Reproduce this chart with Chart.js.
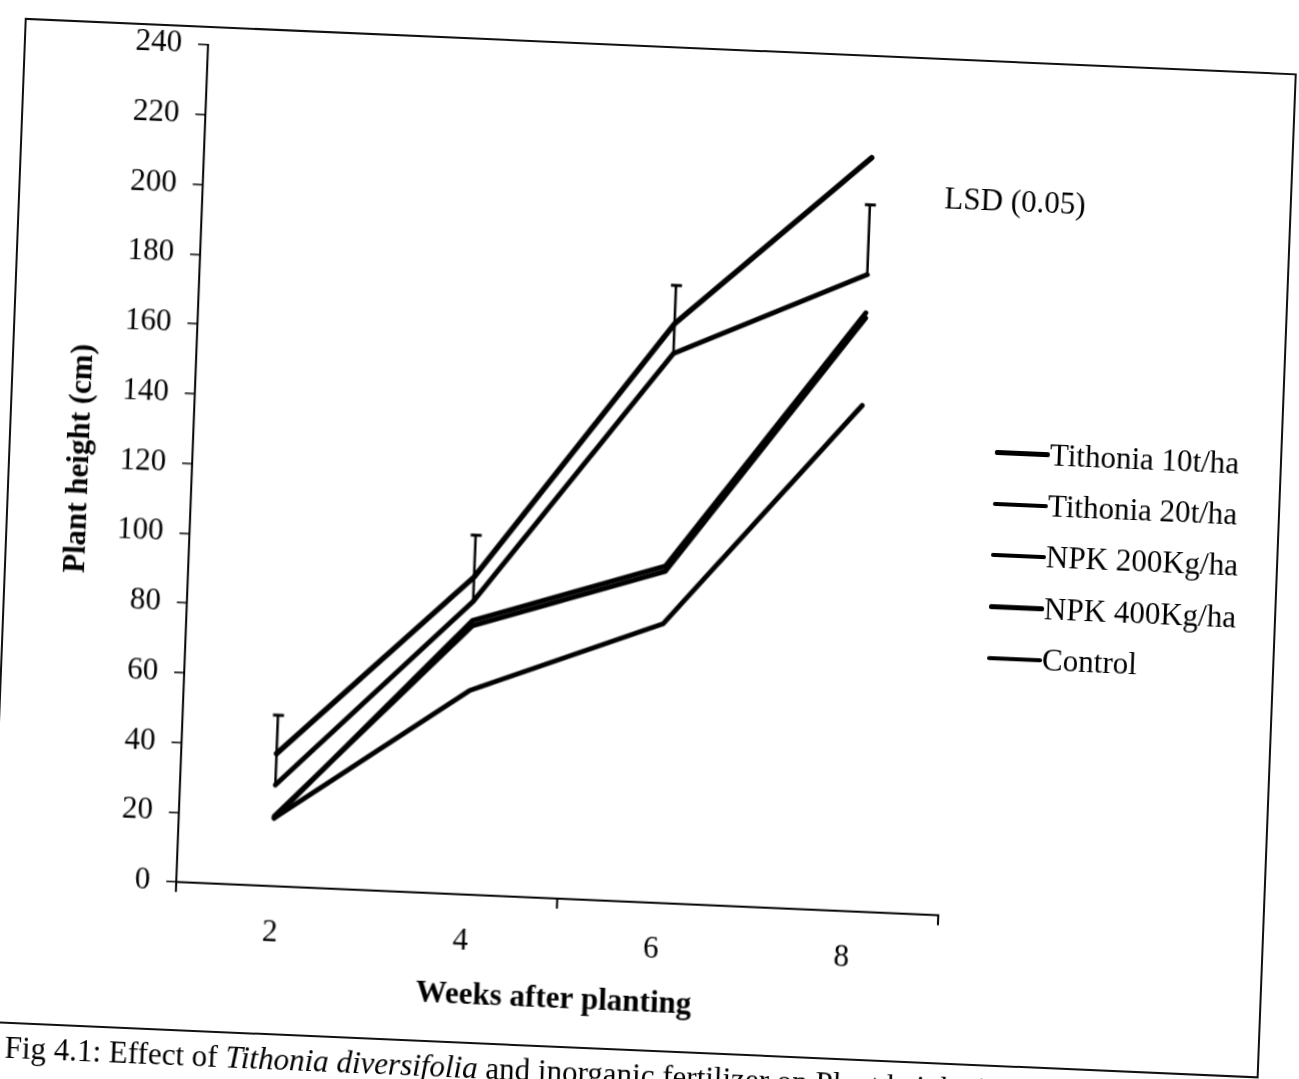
<!DOCTYPE html>
<html>
<head>
<meta charset="utf-8">
<script src="https://cdn.jsdelivr.net/npm/chart.js@4.4.1/dist/chart.umd.min.js"></script>
<style>
    html, body { margin: 0; padding: 0; background: #fff; overflow: hidden; }
    body { width: 1299px; height: 1079px; position: relative; }
    #sheet {
        position: absolute; left: 0; top: 0;
        width: 1299px; height: 1079px;
        transform-origin: 650px 540px;
        transform: matrix(1, 0.0437, -0.038, 1, 0, 0);
        font-family: "Liberation Serif", "Times New Roman", serif;
        color: #000;
    }
    #frame {
        position: absolute; left: 6px; top: 46px;
        width: 1268px; height: 1001px;
        border: 2px solid #111;
    }
    #plot { position: absolute; left: 0; top: 0; }
    #lsdLabel { position: absolute; left: 931px; top: 169px; font-size: 31px; line-height: 34px; white-space: nowrap; }
    #legend { position: absolute; left: 991px; top: 412px; }
    .legend-row { height: 51.3px; display: flex; align-items: center; font-size: 31px; line-height: 34px; white-space: nowrap; }
    .legend-line { width: 55px; height: 4.5px; background: #000; border-radius: 2px; }
    #caption { position: absolute; left: 25px; top: 1057px; font-size: 31px; line-height: 36px; white-space: nowrap; }
</style>
</head>
<body>
<div id="sheet">
    <div id="frame"></div>
    <canvas id="plot" width="1299" height="1079"></canvas>
    <div id="lsdLabel">LSD (0.05)</div>
    <div id="legend"></div>
    <div id="caption"></div>
</div>
<script>
// Data (plant height in cm)
const weeks = ['2', '4', '6', '8'];
const seriesNames = ['Tithonia 10t/ha', 'Tithonia 20t/ha', 'NPK 200Kg/ha', 'NPK 400Kg/ha', 'Control'];
const tithonia10 = [29, 84, 157.5, 182.5];
const tithonia20 = [38, 91, 166, 216];
const npk200 = [20, 77, 95, 170];
const npk400 = [19.5, 78.5, 96.5, 171.5];
const control = [19.5, 58.5, 80, 145];
const lsd = [20, 19, 19.5, 20];

// Y axis range
const yMin = 0;
const yMax = 240;
const yStep = 20;

const serif = '"Liberation Serif", "Times New Roman", serif';

// Caption: keep the species name italic
document.getElementById('caption').innerHTML =
    'Fig 4.1: Effect of <i>Tithonia diversifolia</i> and inorganic fertilizer on Plant height (cm) of';

// Build legend
const legend = document.getElementById('legend');
seriesNames.forEach(name => {
    const row = document.createElement('div');
    row.className = 'legend-row';
    row.innerHTML = `<span class="legend-line"></span><span>${name}</span>`;
    legend.appendChild(row);
});

// LSD bars drawn on top of the Tithonia 10t/ha line
const lsdBars = {
    id: 'lsdBars',
    afterDatasetsDraw(chart) {
        const { ctx, scales: { x, y } } = chart;
        ctx.save();
        ctx.strokeStyle = '#000';
        ctx.lineCap = 'butt';
        tithonia10.forEach((v, i) => {
            const px = x.getPixelForValue(i);
            const yBottom = y.getPixelForValue(v);
            const yTop = y.getPixelForValue(v + lsd[i]);
            ctx.lineWidth = 2.5;
            ctx.beginPath();
            ctx.moveTo(px, yBottom);
            ctx.lineTo(px, yTop);
            ctx.stroke();
            ctx.lineWidth = 3;
            ctx.beginPath();
            ctx.moveTo(px - 5, yTop);
            ctx.lineTo(px + 6, yTop);
            ctx.stroke();
        });
        ctx.restore();
    }
};

function lineSet(label, data, width) {
    return {
        label,
        data,
        borderColor: '#000',
        backgroundColor: '#000',
        borderWidth: width,
        pointRadius: 0,
        borderCapStyle: 'round',
        borderJoinStyle: 'round',
        tension: 0,
        fill: false
    };
}

// x tick marks only every second category boundary (plus the far end)
const everyOther = c => (c.type === 'scale' || c.index === undefined || c.index % 2 === 0 ? '#000' : 'rgba(0,0,0,0)');

const ctx = document.getElementById('plot').getContext('2d');
new Chart(ctx, {
    type: 'line',
    data: {
        labels: weeks,
        datasets: [
            lineSet(seriesNames[0], tithonia10, 5),
            lineSet(seriesNames[1], tithonia20, 5.5),
            lineSet(seriesNames[2], npk200, 5),
            lineSet(seriesNames[3], npk400, 5),
            lineSet(seriesNames[4], control, 5)
        ]
    },
    options: {
        responsive: false,
        animation: false,
        layout: { padding: { top: 65, right: 347, bottom: 57, left: 0 } },
        plugins: {
            legend: { display: false },
            tooltip: { enabled: false }
        },
        scales: {
            x: {
                type: 'category',
                offset: true,
                afterFit: scale => { scale.height = 120; },
                border: { display: true, color: '#000', width: 2 },
                grid: {
                    offset: true,
                    drawOnChartArea: false,
                    tickLength: 10,
                    lineWidth: 2,
                    color: everyOther,
                    tickColor: everyOther
                },
                ticks: {
                    color: '#000',
                    padding: 18,
                    font: { family: serif, size: 31 }
                },
                title: {
                    display: true,
                    text: 'Weeks after planting',
                    color: '#000',
                    padding: { top: 0, bottom: 0 },
                    font: { family: serif, size: 31, weight: 'bold' }
                }
            },
            y: {
                min: yMin,
                max: yMax,
                afterFit: scale => { scale.width = 190; },
                border: { display: true, color: '#000', width: 2 },
                grid: {
                    drawOnChartArea: false,
                    tickLength: 10,
                    lineWidth: 1.5,
                    color: '#000'
                },
                ticks: {
                    stepSize: yStep,
                    color: '#000',
                    padding: 16,
                    font: { family: serif, size: 31 }
                },
                title: {
                    display: true,
                    text: 'Plant height (cm)',
                    color: '#000',
                    padding: { top: 59, bottom: 0 },
                    font: { family: serif, size: 31, weight: 'bold' }
                }
            }
        }
    },
    plugins: [lsdBars]
});
</script>
</body>
</html>
